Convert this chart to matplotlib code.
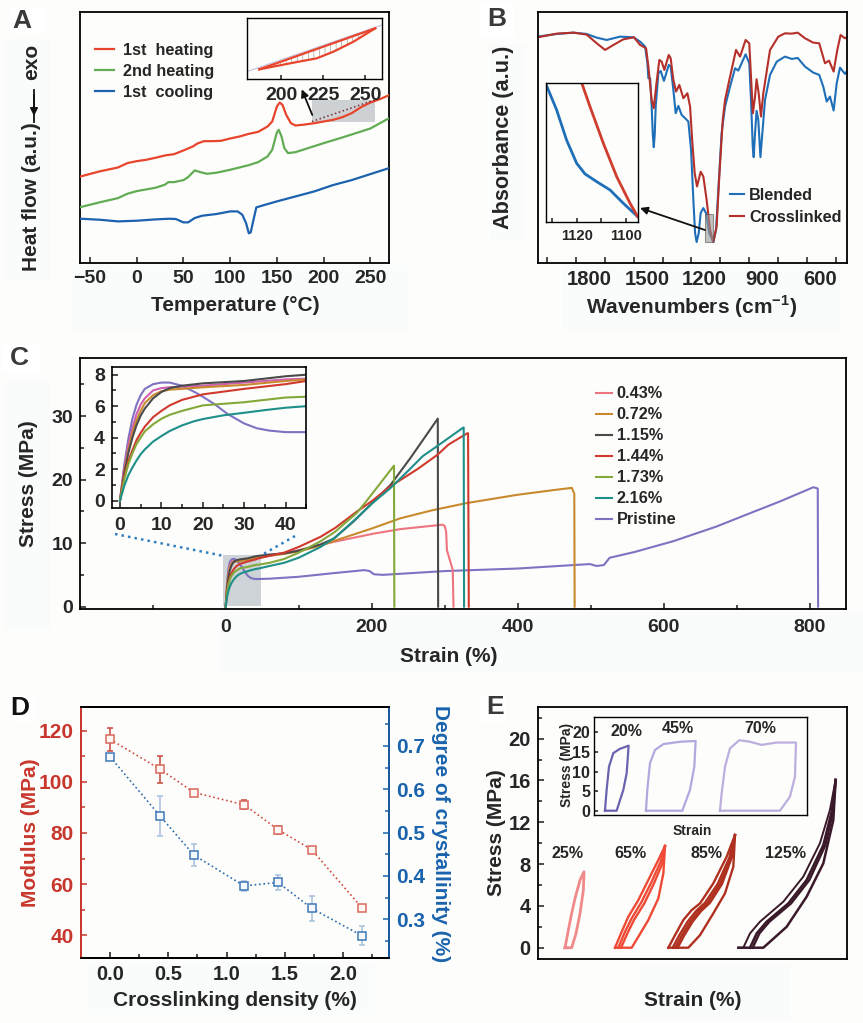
import matplotlib
matplotlib.use('Agg')
import matplotlib.pyplot as plt
from matplotlib.patches import Rectangle

plt.rcParams['font.family'] = ['Liberation Sans', 'DejaVu Sans']
plt.rcParams['font.weight'] = 'bold'
plt.rcParams['axes.labelweight'] = 'bold'
plt.rcParams['mathtext.fontset'] = 'custom'
plt.rcParams['mathtext.bf'] = 'Liberation Sans:bold'
plt.rcParams['mathtext.rm'] = 'Liberation Sans:bold'
plt.rcParams['text.color'] = '#262626'
plt.rcParams['axes.labelcolor'] = '#262626'
plt.rcParams['xtick.color'] = '#1a1a1a'
plt.rcParams['ytick.color'] = '#1a1a1a'
plt.rcParams['xtick.labelcolor'] = '#262626'
plt.rcParams['ytick.labelcolor'] = '#262626'
plt.rcParams['hatch.linewidth'] = 0.4
plt.rcParams['lines.solid_joinstyle'] = 'round'

W, H = 863, 1023
BG = '#fdfdfb'

# panel A, heat flow in arbitrary units
heat1_t = [-60, -40, -20, -10, 0, 10, 20, 30, 40, 50, 60, 65, 72, 80, 90, 100, 110, 120, 130, 140, 145, 150, 153, 156, 160, 165, 170, 180, 190, 200, 210, 220, 230, 240, 250, 260, 270]
heat1_y = [260, 275, 287, 300, 306, 310, 316, 323, 327, 338, 350, 359, 366, 366, 367, 374, 380, 388, 394, 410, 425, 470, 482, 475, 445, 420, 413, 416, 420, 425, 430, 438, 450, 468, 482, 492, 504]
heat2_t = [-60, -40, -20, -10, 0, 10, 20, 30, 34, 40, 50, 55, 62, 68, 75, 85, 100, 110, 120, 130, 140, 145, 150, 152, 155, 158, 162, 170, 180, 200, 220, 240, 250, 270]
heat2_y = [168, 182, 195, 208, 216, 221, 226, 235, 243, 243, 249, 258, 278, 273, 268, 271, 280, 287, 294, 303, 320, 340, 392, 400, 380, 345, 330, 333, 342, 360, 377, 395, 404, 435]
cool1_t = [-60, -40, -20, 0, 20, 35, 42, 50, 55, 62, 70, 85, 100, 108, 113, 117, 120, 122, 125, 128, 135, 150, 170, 190, 210, 230, 250, 270]
cool1_y = [133, 130, 125, 127, 131, 133, 132, 122, 122, 135, 142, 147, 155, 155, 145, 120, 89, 92, 130, 167, 173, 185, 200, 215, 234, 249, 267, 285]
a_inset_t = [187.1, 205.4, 221.2, 231.2, 243.1, 256]
a_inset_low = [29, 47, 62, 82, 112, 152]
a_inset_up = [29, 61.7, 89.9, 107.7, 129, 152]
a_names = ['1st  heating', '2nd heating', '1st  cooling']

# panel B
blend_wn = [2069, 1970, 1883, 1814, 1762, 1710, 1640, 1571, 1536, 1510,
            1498, 1493, 1484, 1476, 1470, 1465, 1460, 1455, 1441, 1429, 1412, 1387,
            1377, 1363, 1351, 1337, 1320, 1302, 1285, 1271, 1259, 1250,
            1242, 1231, 1221, 1207, 1193, 1176, 1155, 1141, 1127, 1112,
            1094, 1068, 1042, 1025, 1008, 987, 968, 959, 950, 945,
            938, 930, 921, 910, 900, 886, 860, 825, 782, 747,
            716, 678, 635, 604, 583, 565, 548, 529, 513, 496,
            470, 461]
blend_abs = [680, 688, 692, 688, 677, 670, 680, 678, 665, 650,
             600, 555, 555, 470, 385, 348, 385, 470, 570, 577, 547, 595,
             590, 520, 450, 472, 445, 435, 425, 340, 190, 90,
             63, 90, 150, 165, 150, 90, 63, 100, 240, 390,
             470, 530, 585, 578, 600, 627, 600, 490, 350, 318,
             390, 457, 430, 318, 390, 490, 565, 605, 620, 613,
             616, 590, 572, 565, 530, 485, 500, 458, 540, 587,
             568, 575]
cross_wn = [2069, 1970, 1883, 1814, 1762, 1718, 1675, 1623, 1568, 1536,
            1505, 1493, 1476, 1465, 1453, 1436, 1424, 1410, 1387, 1377,
            1363, 1349, 1332, 1311, 1290, 1276, 1264, 1252, 1240, 1221,
            1207, 1190, 1172, 1155, 1138, 1124, 1106, 1094, 1068, 1037,
            1016, 987, 968, 959, 949, 938, 930, 919, 907, 895,
            860, 817, 782, 747, 716, 678, 635, 604, 574, 553,
            529, 510, 493, 470, 461]
cross_abs = [678, 689, 692, 686, 660, 640, 655, 672, 678, 655,
             645, 590, 490, 465, 530, 610, 605, 580, 625, 615,
             550, 515, 535, 495, 510, 470, 360, 270, 230, 274,
             260, 190, 100, 63, 110, 260, 430, 490, 560, 640,
             620, 670, 660, 560, 450, 500, 552, 510, 440, 510,
             640, 680, 690, 689, 692, 675, 662, 660, 600, 608,
             575, 640, 685, 675, 678]
b_zoom_blend_wn = [1132.3, 1128.1, 1124.1, 1120, 1116.6, 1111.9, 1106.5, 1101.1, 1095.3]
b_zoom_blend = [412, 337, 247, 177, 145, 122, 97, 57, 17]
b_zoom_cross_wn = [1118, 1114.6, 1109.2, 1103.8, 1098.4, 1095.3]
b_zoom_cross = [419, 347, 237, 137, 57, 17]

# panel C, low strain part shared with the inset
s043_x = [0, 1, 2, 3, 4, 5, 6, 8, 10, 12, 20, 30, 40, 45, 60, 80, 100, 130, 148, 203, 239, 297, 300, 302, 303, 311, 312]
s043_y = [0, 2.0, 3.5, 4.6, 5.5, 6.1, 6.5, 7.0, 7.15, 7.2, 7.3, 7.5, 7.7, 7.75, 8.1, 8.4, 8.9, 9.7, 10.2, 11.5, 12.2, 12.9, 12.7, 11.8, 8.9, 5.8, 0]
s072_x = [0, 1, 2, 3, 4, 5, 6, 8, 10, 12, 15, 20, 30, 40, 45, 60, 80, 100, 130, 150, 200, 239, 284, 330, 399, 449, 474, 477.5, 478]
s072_y = [0, 1.8, 3.2, 4.3, 5.1, 5.7, 6.2, 6.7, 6.95, 7.05, 7.1, 7.2, 7.35, 7.6, 7.7, 8.0, 8.3, 8.7, 9.6, 10.4, 12.3, 13.9, 15.2, 16.3, 17.6, 18.35, 18.7, 17.8, 0]
s115_x = [0, 1, 2, 3, 4, 5, 6, 8, 10, 12, 15, 20, 30, 40, 45, 60, 80, 100, 130, 148, 175, 198, 226, 253, 290.5, 291]
s115_y = [0, 1.7, 3.0, 4.0, 4.8, 5.4, 5.85, 6.5, 6.9, 7.15, 7.3, 7.45, 7.6, 7.9, 8.0, 8.2, 8.4, 8.8, 9.8, 10.7, 13.4, 16.0, 19.2, 23.4, 29.6, 0]
s144_x = [0, 1, 2, 3, 4, 5, 6, 8, 10, 12, 15, 20, 30, 40, 45, 60, 80, 100, 130, 150, 180, 200, 225, 262, 290, 305, 331, 332, 333]
s144_y = [0, 1.5, 2.5, 3.2, 3.85, 4.3, 4.7, 5.3, 5.7, 6.05, 6.4, 6.75, 7.1, 7.4, 7.6, 8.0, 8.5, 9.4, 11.0, 12.4, 15.0, 16.6, 18.9, 21.6, 23.9, 25.5, 27.3, 27.3, 0]
s173_x = [0, 1, 2, 3, 4, 5, 6, 8, 10, 12, 15, 20, 30, 40, 45, 60, 80, 100, 130, 150, 180, 194, 230.5, 231]
s173_y = [0, 1.3, 2.3, 3.0, 3.6, 4.0, 4.4, 4.85, 5.2, 5.45, 5.7, 6.05, 6.25, 6.55, 6.6, 6.9, 7.5, 8.5, 10.3, 11.8, 14.8, 16.8, 22.2, 0]
s216_x = [0, 1, 2, 3, 4, 5, 6, 8, 10, 12, 15, 18, 20, 25, 30, 35, 40, 45, 60, 80, 100, 130, 150, 180, 200, 225, 250, 270, 290, 325.5, 326, 326.5]
s216_y = [0, 0.9, 1.6, 2.1, 2.55, 2.95, 3.25, 3.75, 4.1, 4.42, 4.78, 5.05, 5.18, 5.42, 5.58, 5.75, 5.9, 6.0, 6.4, 6.9, 7.7, 9.4, 10.9, 14.0, 16.2, 18.6, 21.4, 23.7, 25.3, 28.2, 28.2, 0]
spri_x = [0, 1, 2, 3, 4, 5, 6, 8, 10, 12, 15, 18, 20, 23, 26, 30, 33, 36, 40, 45, 60, 100, 150, 190, 197, 203, 215, 300, 400, 470, 499, 508, 518, 526, 560, 613, 672, 718, 760, 805, 811, 811.5]
spri_y = [0, 2.2, 3.9, 5.2, 6.1, 6.7, 7.1, 7.4, 7.5, 7.5, 7.3, 6.9, 6.6, 6.1, 5.5, 4.9, 4.6, 4.45, 4.35, 4.35, 4.4, 4.7, 5.3, 5.75, 5.6, 5.1, 5.0, 5.6, 6.0, 6.5, 6.7, 6.4, 6.55, 7.7, 8.6, 10.3, 12.6, 14.7, 16.6, 18.8, 18.6, 0]
c_labels = ['0.43%', '0.72%', '1.15%', '1.44%', '1.73%', '2.16%', 'Pristine']

# panel D
density = [0, 0.43, 0.72, 1.15, 1.44, 1.73, 2.16]
modulus = [116.6, 104.9, 95.8, 91, 81.3, 73.4, 50.7]
modulus_err = [4.4, 5.3, 1, 1.8, 1.6, 1, 1.1]
crystal = [0.675, 0.538, 0.448, 0.377, 0.385, 0.325, 0.262]
crystal_err = [0.007, 0.047, 0.025, 0.012, 0.018, 0.028, 0.022]

# panel E, strain axis has no scale so x is in arbitrary units
e25_x = [82, 92, 102, 112, 127, 139, 137, 127, 115, 102, 82]
e25_y = [0, 1.69, 3.29, 4.72, 6.47, 7.27, 5.5, 3.29, 1.37, 0, 0]
e65_load1 = [232, 252, 272, 302, 332, 362, 382]
e65_load1_y = [0, 1.53, 2.97, 4.56, 6.48, 8.39, 9.73]
e65_load2 = [242, 262, 282, 312, 342, 369, 382]
e65_load2_y = [0, 1.53, 2.81, 4.4, 6.32, 8.23, 9.73]
e65_load3 = [250, 270, 290, 320, 349, 374, 382]
e65_load3_y = [0, 1.44, 2.71, 4.24, 6.16, 8.07, 9.73]
e65_unload = [382, 377, 362, 332, 302, 282, 232]
e65_unload_y = [9.73, 7.11, 4.72, 2.65, 1.05, 0, 0]
e85_load1 = [392, 412, 437, 462, 487, 527, 567, 592]
e85_load1_y = [0, 1.2, 2.65, 3.6, 4.24, 6.16, 8.7, 10.78]
e85_load2 = [405, 425, 450, 475, 502, 540, 575, 592]
e85_load3 = [413, 433, 458, 483, 510, 547, 579, 592]
e85_load4 = [420, 440, 465, 490, 517, 553, 582, 592]
e85_load2_y = [0, 1.2, 2.5, 3.5, 4.3, 6.1, 8.6, 10.78]
e85_unload = [592, 587, 562, 527, 487, 452, 392]
e85_unload_y = [10.78, 7.75, 5.2, 3.29, 1.2, 0, 0]
e125_load1 = [602, 617, 637, 667, 737, 797, 847, 877, 894]
e125_load1_y = [0, 0, 1.37, 2.49, 4.4, 6.8, 10, 13.2, 16.05]
e125_load2 = [637, 657, 687, 752, 807, 857, 882, 894]
e125_load3 = [645, 665, 695, 760, 815, 863, 886, 894]
e125_load2_y = [0, 1.37, 2.49, 4.24, 6.48, 9.82, 13, 16.05]
e125_unload = [894, 887, 857, 807, 747, 677, 602]
e125_unload_y = [16.05, 12.2, 8.07, 4.88, 2.0, 0, 0]
e20_x = [32, 37, 44, 57, 77, 103, 103, 97, 87, 67, 32]
e20_y = [0, 5.3, 11.2, 14.7, 15.8, 16.6, 16.6, 9.5, 5.3, 0, 0]
e45_x = [155, 159, 167, 182, 207, 257, 304, 304, 300, 287, 264, 155]
e45_y = [0, 5.3, 12.1, 15.5, 17, 17.6, 17.8, 17.8, 11.2, 5.3, 0, 0]
e70_x = [377, 382, 392, 407, 435, 467, 502, 547, 605, 605, 602, 587, 557, 377]
e70_y = [0, 4.4, 11.2, 15.9, 18, 17.6, 16.8, 17.4, 17.4, 17.4, 8.7, 3.6, 0, 0]

fig = plt.figure(figsize=(W / 100, H / 100), dpi=100, facecolor=BG)


def make_axes(left, top, right, bottom, z=1, lw=1.3):
    ax = fig.add_axes([left / W, 1 - bottom / H, (right - left) / W, (bottom - top) / H], zorder=z)
    ax.set_facecolor(BG)
    for s in ax.spines.values():
        s.set_linewidth(lw)
    ax.tick_params(which='both', direction='in', width=1.1, pad=5)
    ax.tick_params(which='major', length=4.5)
    ax.tick_params(which='minor', length=3)
    return ax


def back_box(x0, y0, x1, y1, color='#fafcfc'):
    fig.add_artist(Rectangle((x0 / W, 1 - y1 / H), (x1 - x0) / W, (y1 - y0) / H, transform=fig.transFigure,
                             facecolor=color, edgecolor='none', zorder=-5))


# pixel overlay for arrows, labels and guide lines
top = fig.add_axes([0, 0, 1, 1], zorder=20)
top.set_xlim(0, W)
top.set_ylim(H, 0)
top.axis('off')


def place_label(ax, axis, text, x, y, size=15, **kw):
    if axis == 'x':
        ax.set_xlabel(text, fontsize=size, va='center', ha='center', **kw)
        ax.xaxis.set_label_coords(x, y, transform=top.transData)
    else:
        ax.set_ylabel(text, fontsize=size, va='center', ha='center', **kw)
        ax.yaxis.set_label_coords(x, y, transform=top.transData)


def arrow(x0, y0, x1, y1):
    top.annotate('', xy=(x1, y1), xytext=(x0, y0),
                 arrowprops=dict(arrowstyle='-|>', color='#111111', lw=1.3, mutation_scale=11, shrinkA=0, shrinkB=0))


for box in [(72, 265, 408, 330), (562, 265, 840, 330), (220, 612, 863, 672), (88, 962, 375, 1015),
            (4, 40, 50, 280), (490, 45, 525, 240), (5, 380, 50, 630), (640, 965, 790, 1020)]:
    back_box(*box)
for box in [(10, 8, 44, 34), (480, 4, 514, 38), (2, 345, 40, 372), (10, 695, 35, 722), (480, 695, 506, 722)]:
    back_box(*box, color='#ffffff')

for letter, x, y, c in [('A', 22, 21, '#3a3a3a'), ('B', 497, 19, '#3a3a3a'), ('C', 19, 358, '#3a3a3a'),
                        ('D', 20, 708, '#111111'), ('E', 495, 707, '#3a3a3a')]:
    top.text(x, y, letter, fontsize=19, ha='center', va='center', color=c,
             family=['Liberation Sans Narrow', 'Liberation Sans'])

# ---- A
RED_A, GREEN_A, BLUE_A = '#e8452c', '#62ac55', '#1c62ae'
ax_a = make_axes(80, 12, 389, 263)
ax_a.add_patch(Rectangle((187.5, 425), 67.5, 65, facecolor='#cdd1d4', edgecolor='none', zorder=1))
la1, = ax_a.plot(heat1_t, heat1_y, color=RED_A, lw=1.6, zorder=3)
la2, = ax_a.plot(heat2_t, heat2_y, color=GREEN_A, lw=1.6, zorder=3)
la3, = ax_a.plot(cool1_t, cool1_y, color=BLUE_A, lw=1.6, zorder=3)
ax_a.plot([187.5, 255], [425, 490], ':', color='#7a2a30', lw=1.1, zorder=4)
ax_a.set_xlim(-60.7, 270)
ax_a.set_ylim(0, 754)
ax_a.set_xticks([-50, 0, 50, 100, 150, 200, 250])
ax_a.set_xticklabels(['\u221250', '0', '50', '100', '150', '200', '250'], fontsize=14)
ax_a.set_yticks([])
place_label(ax_a, 'x', 'Temperature (\u00b0C)', 235, 305.7)
place_label(ax_a, 'y', 'Heat flow (a.u.)', 31.7, 196.7)
top.text(32, 62, 'exo', fontsize=15, rotation=90, ha='center', va='center')
top.plot([34, 34], [90, 122], color='#111111', lw=1.3)
arrow(34, 95, 34, 116)
arrow(312.3, 115, 301.7, 89.3)
ax_a.legend([la1, la2, la3], a_names, loc='upper left', bbox_to_anchor=(15 / 309, 1 - 31 / 251), fontsize=11.7,
            frameon=False, handlelength=1.17, handletextpad=0.57, labelspacing=0.36, borderpad=0, borderaxespad=0)

ax_ai = make_axes(246.7, 18.3, 382, 79, z=3, lw=1)
ax_ai.plot([179.6, 260], [22, 162], color='#b9b9e0', lw=0.7)
ax_ai.fill_between(a_inset_t, a_inset_low, a_inset_up, facecolor='none', edgecolor='#8a8a8a', hatch='|||', lw=0)
ax_ai.plot(a_inset_t, a_inset_low, color=RED_A, lw=1.6)
ax_ai.plot(a_inset_t, a_inset_up, color=RED_A, lw=1.6)
ax_ai.set_xlim(179.6, 260)
ax_ai.set_ylim(0, 182)
ax_ai.set_xticks([200, 225, 250])
ax_ai.set_yticks([])
ax_ai.tick_params(axis='x', labelsize=14, pad=6, length=3)

# ---- B
BLUE_B, RED_B = '#1f6fb8', '#b5302a'
ax_b = make_axes(537.7, 12, 846.7, 263)
lb1, = ax_b.plot(blend_wn, blend_abs, color=BLUE_B, lw=1.5)
lb2, = ax_b.plot(cross_wn, cross_abs, color=RED_B, lw=1.5)
ax_b.add_patch(Rectangle((1155, 62), 42, 86, facecolor='#9a9a9a', edgecolor='#555555', alpha=0.6, lw=0.8, zorder=4))
ax_b.set_xlim(2069, 461)
ax_b.set_ylim(0, 754)
ax_b.set_xticks([1800, 1500, 1200, 900, 600])
ax_b.set_xticks([2019, 1869, 1719, 1569, 1419, 1269, 1119, 969, 819, 669, 519], minor=True)
ax_b.tick_params(axis='x', which='major', length=0, labelsize=14.6, pad=5)
ax_b.tick_params(axis='x', which='minor', length=4.5)
ax_b.set_yticks([])
place_label(ax_b, 'x', r'Wavenumbers (cm$^{\mathbf{-1}}$)', 692, 307)
place_label(ax_b, 'y', 'Absorbance (a.u.)', 503.3, 137.7, size=15.6)
ax_b.legend([lb1, lb2], ['Blended', 'Crosslinked'], loc='upper left', bbox_to_anchor=(192 / 309, 1 - 176 / 251),
            fontsize=11.7, frameon=False, handlelength=0.88, handletextpad=0.3, labelspacing=0.4, borderpad=0, borderaxespad=0)

ax_bi = make_axes(546.3, 82.7, 637.7, 222.3, z=3, lw=1)
ax_bi.plot(b_zoom_blend_wn, b_zoom_blend, color=BLUE_B, lw=2)
ax_bi.plot(b_zoom_cross_wn, b_zoom_cross, color='#cf3d2e', lw=2)
ax_bi.set_xlim(1132.3, 1095.3)
ax_bi.set_ylim(0, 419)
ax_bi.set_xticks([1130, 1120, 1110, 1100])
ax_bi.set_xticklabels(['', '1120', '', '1100'], fontsize=10.6)
ax_bi.set_yticks([])
ax_bi.tick_params(axis='x', pad=5, length=3)
arrow(705, 230, 640, 208)

# ---- C
C_COLORS = ['#ee7480', '#c98a2e', '#4a4a4a', '#d03a2e', '#84a83a', '#1f8f8a', '#7f72c2']
c_series = [(s043_x, s043_y), (s072_x, s072_y), (s115_x, s115_y), (s144_x, s144_y),
            (s173_x, s173_y), (s216_x, s216_y), (spri_x, spri_y)]
ax_c = make_axes(80, 358.3, 846, 609.3)
ax_c.add_patch(Rectangle((-4, 0.1), 52, 8, facecolor='#cdd3d6', edgecolor='none', zorder=1))
handles = []
for i in [6, 0, 1, 2, 3, 4, 5]:
    l, = ax_c.plot(c_series[i][0], c_series[i][1], color=C_COLORS[i], lw=1.5, zorder=3, label=c_labels[i])
    handles.append((i, l))
handles = [h[1] for h in sorted(handles, key=lambda h: h[0])]
ax_c.set_xlim(-199.6, 849.7)
ax_c.set_ylim(-0.42, 39.1)
ax_c.set_xticks([0, 200, 400, 600, 800])
ax_c.set_xticks([-100, 100, 300, 500, 700], minor=True)
ax_c.set_yticks([0, 10, 20, 30])
ax_c.set_yticks([5, 15, 25, 35], minor=True)
ax_c.tick_params(axis='both', which='major', labelsize=14)
ax_c.tick_params(axis='x', which='both', pad=7)
place_label(ax_c, 'x', 'Strain (%)', 448.5, 656)
place_label(ax_c, 'y', 'Stress (MPa)', 28.3, 483.7)
ax_c.legend(handles, c_labels, loc='upper left', bbox_to_anchor=(515.7 / 766, 1 - 28 / 251), fontsize=11.7, frameon=False,
            handlelength=1.0, handletextpad=0.3, labelspacing=0.37, borderpad=0, borderaxespad=0)
top.plot([115, 224], [534, 556], ':', color='#2f7fbf', lw=1.8)
top.plot([295, 261.7], [536, 555], ':', color='#2f7fbf', lw=1.8)

ax_ci = make_axes(111.7, 367.3, 306.3, 508.3, z=3, lw=1.2)
inset_colors = ['#cf5fb0'] + C_COLORS[1:]
for i in [6, 0, 1, 2, 3, 4, 5]:
    ax_ci.plot(c_series[i][0], c_series[i][1], color=inset_colors[i], lw=1.5)
ax_ci.set_xlim(-2, 45)
ax_ci.set_ylim(-0.49, 8.47)
ax_ci.set_xticks([0, 10, 20, 30, 40])
ax_ci.set_xticks([5, 15, 25, 35, 45], minor=True)
ax_ci.set_yticks([0, 2, 4, 6, 8])
ax_ci.set_yticks([1, 3, 5, 7], minor=True)
ax_ci.tick_params(axis='both', which='major', labelsize=14)
ax_ci.tick_params(axis='x', which='both', pad=6)

# ---- D
RED_D, BLUE_D = '#c8372d', '#1a63ad'
ax_d = make_axes(80.7, 707.3, 389.3, 958.3)
ax_d.errorbar(density, modulus, yerr=modulus_err, fmt='none', ecolor='#c8473d', elinewidth=1.1, capsize=2.5, capthick=1.1, zorder=3)
ax_d.plot(density, modulus, ':', color='#cf4a3f', lw=1.2, marker='s', ms=5.2, mfc='#fdf6f3', mec='#d9685c', mew=1.1, zorder=4)
ax_d.set_xlim(-0.251, 2.394)
ax_d.set_ylim(31, 129.1)
ax_d.set_xticks([0, 0.5, 1, 1.5, 2])
ax_d.set_xticklabels(['0.0', '0.5', '1.0', '1.5', '2.0'], fontsize=14.5)
ax_d.set_xticks([0.25, 0.75, 1.25, 1.75, 2.25], minor=True)
ax_d.set_yticks([40, 60, 80, 100, 120])
ax_d.set_yticks([50, 70, 90, 110], minor=True)
ax_d.tick_params(axis='y', which='both', colors=RED_D, labelcolor=RED_D, labelsize=15)
ax_d.spines['left'].set_color(RED_D)
place_label(ax_d, 'x', 'Crosslinking density (%)', 235, 1001)
place_label(ax_d, 'y', 'Modulus (MPa)', 30, 833, color=RED_D)

ax_d2 = ax_d.twinx()
ax_d2.errorbar(density, crystal, yerr=crystal_err, fmt='none', ecolor='#a8bfdc', elinewidth=1.1, capsize=2.5, capthick=1.1, zorder=3)
ax_d2.plot(density, crystal, ':', color='#2a6cb0', lw=1.2, marker='s', ms=5.2, mfc='#f5f8fc', mec='#3f78b8', mew=1.1, zorder=4)
ax_d2.set_ylim(0.21, 0.789)
ax_d2.set_yticks([0.3, 0.4, 0.5, 0.6, 0.7])
ax_d2.set_yticks([0.25, 0.35, 0.45, 0.55, 0.65, 0.75], minor=True)
ax_d2.tick_params(axis='y', which='both', direction='in', colors=BLUE_D, labelcolor=BLUE_D, width=1.1, pad=5)
ax_d2.tick_params(axis='y', which='major', length=4.5, labelsize=15)
ax_d2.tick_params(axis='y', which='minor', length=3)
for s in ax_d2.spines.values():
    s.set_linewidth(1.3)
ax_d2.spines['right'].set_color(BLUE_D)
ax_d2.spines['left'].set_color(RED_D)
place_label(ax_d2, 'y', 'Degree of crystallinity (%)', 440, 833.3, color=BLUE_D, rotation=270)

# ---- E
ax_e = make_axes(537.7, 707.3, 847.3, 959)
ax_e.plot(e25_x, e25_y, color='#f08a8a', lw=2)
for xs, ys in [(e65_load1, e65_load1_y), (e65_load2, e65_load2_y), (e65_load3, e65_load3_y), (e65_unload, e65_unload_y)]:
    ax_e.plot(xs, ys, color='#ef4a36', lw=1.7)
for xs, ys in [(e85_load1, e85_load1_y), (e85_load2, e85_load2_y), (e85_load3, e85_load2_y),
               (e85_load4, e85_load2_y), (e85_unload, e85_unload_y)]:
    ax_e.plot(xs, ys, color='#b03020', lw=1.7)
ax_e.plot(e125_load1, e125_load1_y, color='#3a1a2a', lw=1.4)
for xs, ys in [(e125_load2, e125_load2_y), (e125_load3, e125_load2_y), (e125_unload, e125_unload_y)]:
    ax_e.plot(xs, ys, color='#3a1a2a', lw=1.8)
ax_e.set_xlim(0, 929)
ax_e.set_ylim(-1.08, 23)
ax_e.set_xticks([])
ax_e.set_yticks([0, 4, 8, 12, 16, 20])
ax_e.set_yticks([2, 6, 10, 14, 18, 22], minor=True)
ax_e.tick_params(axis='y', which='major', labelsize=14.5)
place_label(ax_e, 'x', 'Strain (%)', 692.3, 1000.7)
place_label(ax_e, 'y', 'Stress (MPa)', 496.7, 832.7)
for txt, x, y in [('25%', 567.3, 854), ('65%', 630.7, 854), ('85%', 706, 853.3), ('125%', 785, 854)]:
    top.text(x, y, txt, fontsize=11.5, ha='center', va='center')

ax_ei = make_axes(594.3, 716.7, 807.3, 815, z=3, lw=1)
ax_ei.plot(e20_x, e20_y, color='#6a63b0', lw=1.6)
ax_ei.plot(e45_x, e45_y, color='#aeaade', lw=1.6)
ax_ei.plot(e70_x, e70_y, color='#bcaedd', lw=1.6)
ax_ei.set_xlim(0, 639)
ax_ei.set_ylim(-1.1, 24)
ax_ei.set_xticks([])
ax_ei.set_yticks([0, 5, 10, 15, 20])
ax_ei.tick_params(axis='y', labelsize=11.5, length=3, pad=3)
place_label(ax_ei, 'x', 'Strain', 692.7, 830.7, size=10)
place_label(ax_ei, 'y', 'Stress (MPa)', 566.7, 765, size=10)
for txt, x, y in [('20%', 626.7, 731.7), ('45%', 678.3, 728.3), ('70%', 760.7, 728.3)]:
    top.text(x, y, txt, fontsize=11.5, ha='center', va='center')

fig.savefig('out.png', dpi=100, facecolor=BG)
